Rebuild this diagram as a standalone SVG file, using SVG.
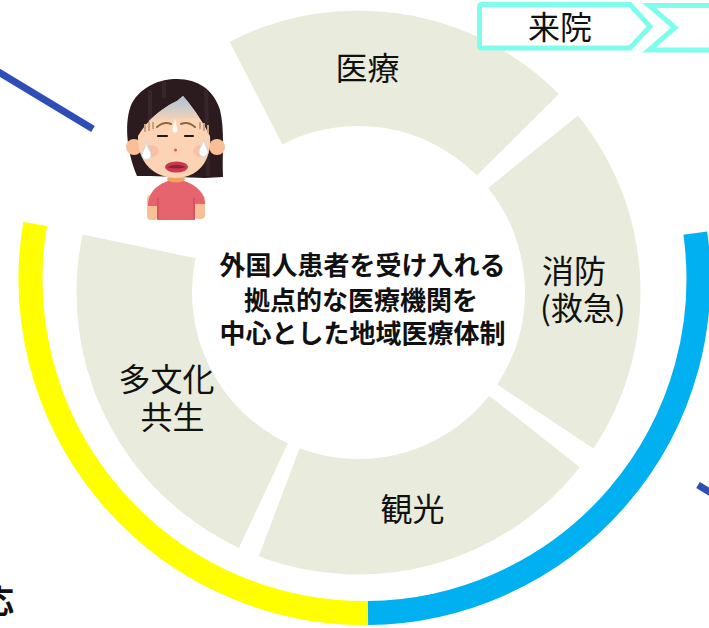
<svg xmlns="http://www.w3.org/2000/svg" width="709" height="628" viewBox="0 0 709 628">
  <style>
    .seg { fill: #E9ECDC; }
    .lbl { font-family: "Noto Sans CJK JP", "Noto Sans", sans-serif; font-size: 32px; fill: #111; }
    .ctr { font-family: "Noto Sans CJK JP", "Noto Sans", sans-serif; font-size: 26px; font-weight: 700; fill: #111; text-anchor: middle; }
    .ring { fill: none; stroke-width: 24; }
    .link { stroke: #2E4DB7; stroke-width: 7; fill: none; }
    .tag { fill: #fff; stroke: #7FFDEC; stroke-width: 5; stroke-linejoin: miter; }
  </style>
  <defs>
    <linearGradient id="foreheadShade" x1="0" y1="96" x2="0" y2="122" gradientUnits="userSpaceOnUse">
      <stop offset="0" stop-color="#A5C4DA"/>
      <stop offset="1" stop-color="#FCD3B4"/>
    </linearGradient>
  </defs>

  <rect width="709" height="628" fill="#fff"/>

  <!-- connectors -->
  <g id="connectors">
    <line class="link" x1="-8" y1="68" x2="93" y2="129"/>
    <line class="link" x1="698" y1="485" x2="718" y2="497"/>
    <!-- outer rim arcs -->
    <path class="ring" stroke="#FFFF00" d="M 368 613 A 334 334 0 0 1 35.1 223.9"/>
    <path class="ring" stroke="#00B0F0" d="M 695.3 233.1 A 334 334 0 0 1 368 613"/>
  </g>

  <!-- ring segments -->
  <g id="node-medical">
    <path class="seg" d="M 229.6 41.7 A 282 282 0 0 1 558.9 94.1 L 476.8 175.4 A 166.5 166.5 0 0 0 282.4 144.4 Z"/>
    <text class="lbl" x="367.5" y="80" text-anchor="middle">医療</text>
  </g>
  <g id="node-fire">
    <path class="seg" d="M 578.0 115.4 A 282 282 0 0 1 593.4 448.6 L 497.2 384.6 A 166.5 166.5 0 0 0 488.1 187.9 Z"/>
    <text class="lbl" x="542" y="283">消防</text>
    <text class="lbl" x="540" y="320">(救急)</text>
  </g>
  <g id="node-tourism">
    <path class="seg" d="M 579.8 467.3 A 282 282 0 0 1 258.8 556.3 L 299.6 448.2 A 166.5 166.5 0 0 0 489.2 395.7 Z"/>
    <text class="lbl" x="412.5" y="521" text-anchor="middle">観光</text>
  </g>
  <g id="node-multicultural">
    <path class="seg" d="M 238.9 547.9 A 282 282 0 0 1 82.6 234.4 L 195.6 258.2 A 166.5 166.5 0 0 0 287.9 443.3 Z"/>
    <text class="lbl" x="166.5" y="391" text-anchor="middle">多文化</text>
    <text class="lbl" x="172.5" y="429" text-anchor="middle">共生</text>
  </g>

  <!-- hub -->
  <g id="node-hub">
    <text class="ctr" x="362.5" y="275">外国人患者を受け入れる</text>
    <text class="ctr" x="361" y="310">拠点的な医療機関を</text>
    <text class="ctr" x="362.5" y="343">中心とした地域医療体制</text>
  </g>

  <!-- arrival tag -->
  <g id="node-arrival">
    <path class="tag" d="M 482 4.5 L 630 4.5 L 650 26.5 L 630 48 L 482 48 Q 479.5 48 479.5 45.5 L 479.5 7 Q 479.5 4.5 482 4.5 Z"/>
    <text class="lbl" x="560" y="39" text-anchor="middle">来院</text>
  </g>
  <g id="node-next">
    <path class="tag" d="M 720 5.5 L 649 5.5 L 675 27.5 L 649 50 L 720 50"/>
  </g>

  <!-- partially visible caption -->
  <g id="node-caption">
    <text x="14" y="613" text-anchor="end" font-family="'Noto Sans CJK JP', sans-serif" font-size="32" font-weight="700" fill="#111">応</text>
  </g>

  <!-- worried patient -->
  <g id="node-patient">
    <!-- hair -->
    <path fill="#2B1B1E" d="M 137 176 C 126 150 124 120 132 103 C 142 86 160 79 177 79 C 198 79 214 90 220 110 C 225 130 222 155 223 177 L 205 178 L 150 176 Z"/>
    <path stroke="#3C2A2D" stroke-width="4" fill="none" opacity="0.7" d="M 150 90 L 150 170 M 164 82 L 164 98 M 206 90 L 208 176"/>
    <!-- ears -->
    <circle cx="134" cy="147" r="8" fill="#FBBF98"/>
    <circle cx="217" cy="147" r="8" fill="#FBBF98"/>
    <!-- arms -->
    <rect x="147" y="195" width="11" height="25" rx="4" fill="#FBBF98"/>
    <rect x="194" y="195" width="11" height="24" rx="4" fill="#FBBF98"/>
    <!-- shirt -->
    <path fill="#E6646E" d="M 148 206 C 148 191 159 182 176 179 C 193 182 205 191 205 204 L 195 204 L 195 220 L 157 220 L 157 206 Z"/>
    <path stroke="#C94A56" stroke-width="1.2" fill="none" d="M 158 198 L 158 219 M 194 198 L 194 219"/>
    <!-- neck -->
    <ellipse cx="176" cy="179" rx="9" ry="3.5" fill="#F4A35F"/>
    <!-- face, with the forehead shaded blue under the fringe -->
    <path fill="#FCD3B4" d="M 138 136 C 137 162 154 178 176 178 C 197 178 212 162 210 136 C 204 124 196 111 183 96 L 177 101 C 162 108 147 120 138 136 Z"/>
    <path fill="url(#foreheadShade)" d="M 183 96 C 190 104 195 111 199 118 L 149 121 C 157 113 166 106 177 101 Z"/>
    <!-- cheek blush -->
    <ellipse cx="151" cy="151" rx="8" ry="6" fill="#F8B3A0" opacity="0.6"/>
    <ellipse cx="201" cy="151" rx="8" ry="6" fill="#F8B3A0" opacity="0.6"/>
    <!-- worry lines -->
    <path stroke="#C9A27E" stroke-width="2" fill="none" d="M 145 124 L 145 132 M 149 122 L 149 131 M 153 122 L 153 129 M 200 122 L 200 129 M 204 123 L 204 131 M 208 125 L 208 133"/>
    <!-- brows -->
    <path stroke="#8C6A3C" stroke-width="2" fill="none" stroke-linecap="round" d="M 157 127 Q 164 121 171 124 M 181 124 Q 188 121 195 127"/>
    <!-- closed eyes -->
    <path stroke="#1E1A1A" stroke-width="2.2" fill="none" stroke-linecap="round" d="M 158 136 L 167 136 M 185 136 L 193 136"/>
    <!-- nose -->
    <circle cx="175.5" cy="150" r="1.5" fill="#D9536A"/>
    <!-- mouth -->
    <ellipse cx="176.5" cy="167" rx="11.5" ry="5.5" fill="#C9394F"/>
    <path fill="#8E1F33" d="M 167 167 Q 176.5 163 186 167 Q 176.5 170 167 167 Z"/>
    <!-- sweat drops -->
    <path fill="#fff" stroke="#B9DAF0" stroke-width="0.8" d="M 146.5 142 C 146.5 147 151 151 151 155 A 4.5 4.5 0 0 1 142 155 C 142 151 146.5 147 146.5 142 Z"/>
    <path fill="#fff" stroke="#B9DAF0" stroke-width="0.8" d="M 203.5 139 C 203.5 144 208 148 208 152 A 4.5 4.5 0 0 1 199 152 C 199 148 203.5 144 203.5 139 Z"/>
    <path fill="#fff" d="M 175 118 C 175 123 177.5 127 177.5 130 A 2.5 2.5 0 0 1 172.5 130 C 172.5 127 175 123 175 118 Z"/>
  </g>
</svg>
